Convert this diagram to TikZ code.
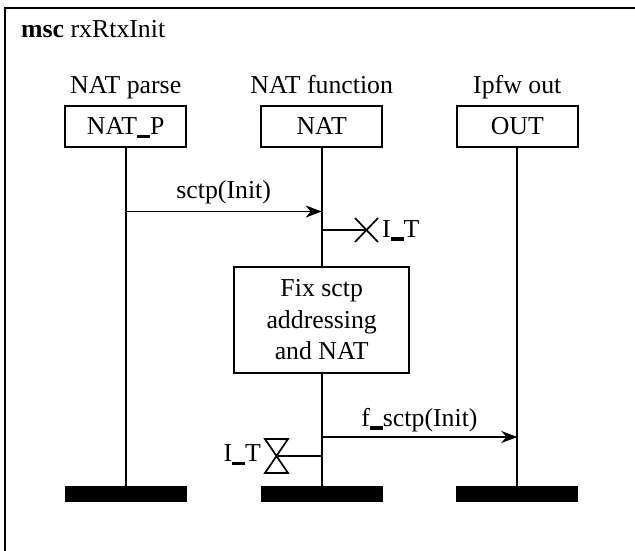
\documentclass[tikz,border=0pt]{standalone}
\usepackage{fontspec}
\setmainfont{Liberation Serif}
\usetikzlibrary{arrows.meta}
\newcommand\usc{\rule[-3.5pt]{0.5em}{3.3pt}}
\begin{document}
\begin{tikzpicture}[x=1pt,y=-1pt,
  every node/.style={font=\fontsize{25.8}{31.5}\selectfont, inner sep=0pt},
  lw/.style={line width=1.7pt},
  inst/.style={draw, lw, minimum width=121pt, minimum height=41.5pt, text height=17pt, text depth=0pt},
  endbar/.style={fill=black, minimum width=122pt, minimum height=16pt},
  msg/.style={lw, -{Stealth[length=16pt,width=12pt,inset=5pt]}},
  actbox/.style={draw, lw, minimum width=175pt, minimum height=106pt, align=center},
  lbl/.style={anchor=base}]
\useasboundingbox (0,0) rectangle (635,551);
% frame (open at right and bottom, as cropped)
\draw[lw] (5,551) -- (5,8) -- (635,8);
\node[anchor=base west] (title) at (21,38) {\textbf{msc} rxRtxInit};
% instance headers
\node[lbl] (h1) at (125.7,93.5) {NAT parse};
\node[lbl] (h2) at (321.7,93.5) {NAT function};
\node[lbl] (h3) at (517.3,93.5) {Ipfw out};
\node[inst] (p) at (125.7,126.5) {NAT\usc P};
\node[inst] (n) at (321.7,126.5) {NAT};
\node[inst] (o) at (517.3,126.5) {OUT};
% end bars
\node[endbar] (pe) at (125.7,494) {};
\node[endbar] (ne) at (321.7,494) {};
\node[endbar] (oe) at (517.3,494) {};
% action
\node[actbox] (act) at (321.7,320) {Fix sctp\\addressing\\and NAT};
% lifelines
\draw[lw] (p.south) -- (pe.north);
\draw[lw] (n.south) -- (act.north);
\draw[lw] (act.south) -- (ne.north);
\draw[lw] (o.south) -- (oe.north);
% message sctp(Init)
\coordinate (m1a) at (125.7,211.5);
\coordinate (m1b) at (321.7,211.5);
\draw[msg] (m1a) -- (m1b);
\node[lbl] (m1l) at (223.7,198.5) {sctp(Init)};
% timer set
\coordinate (t1a) at (321.7,230);
\coordinate (t1) at (366.5,230);
\draw[lw] (t1a) -- (t1);
\draw[lw] ([shift={(-11.5,-12)}]t1) -- ([shift={(11.5,12)}]t1)
          ([shift={(-11.5,12)}]t1) -- ([shift={(11.5,-12)}]t1);
\node[anchor=base west] (t1l) at (382,237) {I\usc T};
% message f_sctp(Init)
\coordinate (m2a) at (321.7,437);
\coordinate (m2b) at (517.3,437);
\draw[msg] (m2a) -- (m2b);
\node[lbl] (m2l) at (419.5,426) {f\usc sctp(Init)};
% timer timeout
\coordinate (t2a) at (321.7,456);
\coordinate (t2) at (276.5,456);
\draw[lw] (t2a) -- (t2);
\draw[lw] ([shift={(-11.5,-17)}]t2) -- ([shift={(11.5,-17)}]t2) -- ([shift={(-11.5,17)}]t2) -- ([shift={(11.5,17)}]t2) -- cycle;
\node[anchor=base east] (t2l) at (261,461.7) {I\usc T};
\end{tikzpicture}
\end{document}
